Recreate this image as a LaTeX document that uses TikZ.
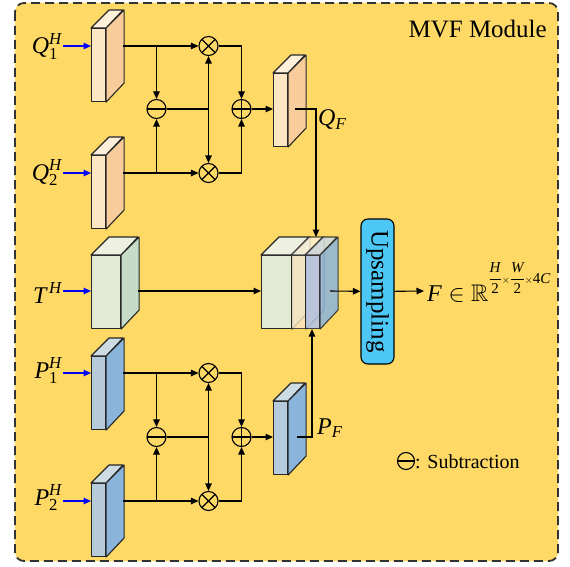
\documentclass[tikz,border=0pt]{standalone}
\usepackage{fix-cm}
\usepackage{amsmath,amssymb}
\usepackage{fontspec}
\setmainfont{Liberation Serif}
\usetikzlibrary{arrows.meta,calc}
\definecolor{bgY}{RGB}{254,217,102}
\definecolor{qf}{RGB}{253,230,196}
\definecolor{qs}{RGB}{248,204,155}
\definecolor{qt}{RGB}{254,240,218}
\definecolor{tf}{RGB}{226,234,212}
\definecolor{ts}{RGB}{197,220,201}
\definecolor{tt}{RGB}{238,240,224}
\definecolor{pf}{RGB}{181,203,220}
\definecolor{ps}{RGB}{138,180,218}
\definecolor{pt}{RGB}{205,220,227}
\definecolor{cf}{RGB}{176,196,232}
\definecolor{upc}{RGB}{77,200,246}
\tikzset{
  lw/.style={line width=1.1pt},
  conn/.style={lw, -{Triangle[length=7.5pt,width=6.5pt]}},
  plain/.style={lw},
  inarr/.style={blue, line width=1.2pt, -{Triangle[length=7.5pt,width=6.5pt]}},
  edgeline/.style={draw=black!85, line width=1.1pt, line join=round},
  opnode/.style={circle, draw, lw, minimum size=19pt, inner sep=0pt},
  mul/.style={opnode, path picture={\draw[lw] (path picture bounding box.north west)--(path picture bounding box.south east) (path picture bounding box.north east)--(path picture bounding box.south west);}},
  addn/.style={opnode, path picture={\draw[lw] (path picture bounding box.west)--(path picture bounding box.east) (path picture bounding box.north)--(path picture bounding box.south);}},
  subt/.style={opnode, path picture={\draw[lw] (path picture bounding box.west)--(path picture bounding box.east);}},
  lbl/.style={inner sep=0pt, font=\fontsize{24}{28}\selectfont},
}
% block: name, x, ytop, w, h, front, side, top colours
\newcommand\blkc[8]{%
  \node[edgeline, fill=#6, minimum width=#4pt, minimum height=#5pt, inner sep=0pt, anchor=north west] (#1) at (#2,#3) {};
  \filldraw[edgeline, fill=#8] (#1.north west) -- ++(18,-18) -- ++(#4,0) -- (#1.north east) -- cycle;
  \filldraw[edgeline, fill=#7] (#1.north east) -- ++(18,-18) -- ++(0,#5) -- (#1.south east) -- cycle;
}
\newcommand\blk[6]{\blkc{#1}{#2}{#3}{#4}{#5}{#6f}{#6s}{#6t}}
% fusion group: prefix, y line1, y op, y line2
\newcommand\grp[4]{%
  \node[mul] (#1m1) at (208.5,#2) {};
  \node[mul] (#1m2) at (208.5,#4) {};
  \node[subt] (#1s) at (156.5,#3) {};
  \node[addn] (#1a) at (241.5,#3) {};
  \coordinate (#1o1) at (123,#2);
  \coordinate (#1o2) at (123,#4);
  \coordinate (#1b1) at (156.5,#2);
  \coordinate (#1b2) at (156.5,#4);
  \coordinate (#1j) at (208.5,#3);
  \coordinate (#1c1) at (241.5,#2);
  \coordinate (#1c2) at (241.5,#4);
  \draw[conn] (#1o1) -- (#1m1);
  \draw[conn] (#1o2) -- (#1m2);
  \draw[conn] (#1b1) -- (#1s);
  \draw[conn] (#1b2) -- (#1s);
  \draw[plain] (#1s) -- (#1j);
  \draw[conn] (#1j) -- (#1m1);
  \draw[conn] (#1j) -- (#1m2);
  \draw[conn] (#1m1) -- (#1c1) -- (#1a);
  \draw[conn] (#1m2) -- (#1c2) -- (#1a);
}
\begin{document}
\begin{tikzpicture}[x=1pt,y=-1pt]
\fill[white] (0,0) rectangle (570,567);
\useasboundingbox (0,0) rectangle (570,567);
\draw[fill=bgY, draw=black!80, line width=1.8pt, dash pattern=on 9pt off 5pt, rounded corners=9pt] (15,3) rectangle (558,561);
\node[anchor=base east, inner sep=0pt, font=\fontsize{25}{30}\selectfont] (title) at (547,38) {MVF Module};

% input blocks
\blk{q1}{91}{28}{14}{73}{q}
\blk{q2}{91}{155}{14}{73}{q}
\blk{tb}{91}{255}{29}{73}{t}
\blk{p1}{91}{356}{14}{73}{p}
\blk{p2}{91}{483}{14}{73}{p}
% fused blocks
\blk{qF}{273}{73}{14}{73}{q}
\blk{pF}{273}{401}{14}{73}{p}
% concatenated block
\blk{cg}{261}{255}{30}{73}{t}
\begin{scope}[opacity=0.8]
\blk{cq}{291}{255}{14}{73}{q}
\end{scope}
\begin{scope}[opacity=0.85]
\blkc{cp}{305}{255}{14}{73}{cf}{ps}{pt}
\end{scope}

% input labels and arrows
\node[lbl, anchor=base east] (lq1) at (62,54) {$\textit{Q}^{\textit{H}}_{\text{1}}$};
\node[lbl, anchor=base east] (lq2) at (62,180) {$\textit{Q}^{\textit{H}}_{\text{2}}$};
\node[lbl, anchor=base east] (lt) at (62,303) {$\textit{T}^{\,\textit{H}}$};
\node[lbl, anchor=base east] (lp1) at (62,378) {$\textit{P}^{\textit{H}}_{\text{1}}$};
\node[lbl, anchor=base east] (lp2) at (62,505) {$\textit{P}^{\textit{H}}_{\text{2}}$};
\coordinate (a1) at (63,46);
\coordinate (a2) at (63,173);
\coordinate (a3) at (63,291);
\coordinate (a4) at (63,373);
\coordinate (a5) at (63,501);
\draw[inarr] (a1) -- (a1 -| q1.west);
\draw[inarr] (a2) -- (a2 -| q2.west);
\draw[inarr] (a3) -- (a3 -| tb.west);
\draw[inarr] (a4) -- (a4 -| p1.west);
\draw[inarr] (a5) -- (a5 -| p2.west);

% fusion groups
\grp{q}{46}{109}{173}
\grp{p}{373}{437}{501}
\draw[conn] (qa) -- (qa -| qF.west);
\draw[conn] (pa) -- (pa -| pF.west);

% fused outputs to concat
\coordinate (qfo) at (295,109);
\coordinate (qfk) at (316,109);
\coordinate (qft) at (316,237);
\draw[conn] (qfo) -- (qfk) -- (qft);
\node[lbl, anchor=base west] (lqf) at (318,125) {$\textit{Q}_{\textit{F}}$};
\coordinate (pfo) at (297,437);
\coordinate (pfk) at (312,437);
\draw[conn] (pfo) -- (pfk) -- (pfk |- cp.south);
\node[lbl, anchor=base west] (lpf) at (317,434) {$\textit{P}_{\textit{F}}$};

% T path
\coordinate (to) at (138,291);
\draw[conn] (to) -- (to -| cg.west);

% upsampling
\node[draw, fill=upc, lw, rounded corners=7pt, rotate=-90, minimum width=145pt, minimum height=33pt, inner sep=0pt, font=\fontsize{25}{30}\selectfont] (up) at (377.5,291.5) {Upsampling};
\coordinate (co) at (330,291);
\draw[conn] (co) -- (up);
\coordinate (fo) at (424,291);
\draw[conn] (up) -- (fo);
\node[lbl, anchor=base west] (lF) at (427,301) {$\textit{F}\in\mathbb{R}$\raisebox{18pt}{\fontsize{15}{17}\selectfont$\displaystyle\frac{\textit{H}}{\text{2}}{\scriptstyle\times}\frac{\textit{W}}{\text{2}}{\scriptstyle\times}\text{4}\textit{C}$}};

% legend
\node[subt, minimum size=17pt] (lg) at (406,461) {};
\node[anchor=base west, inner sep=0pt, font=\fontsize{20}{24}\selectfont] (lgt) at (415,468) {: Subtraction};
\end{tikzpicture}
\end{document}
